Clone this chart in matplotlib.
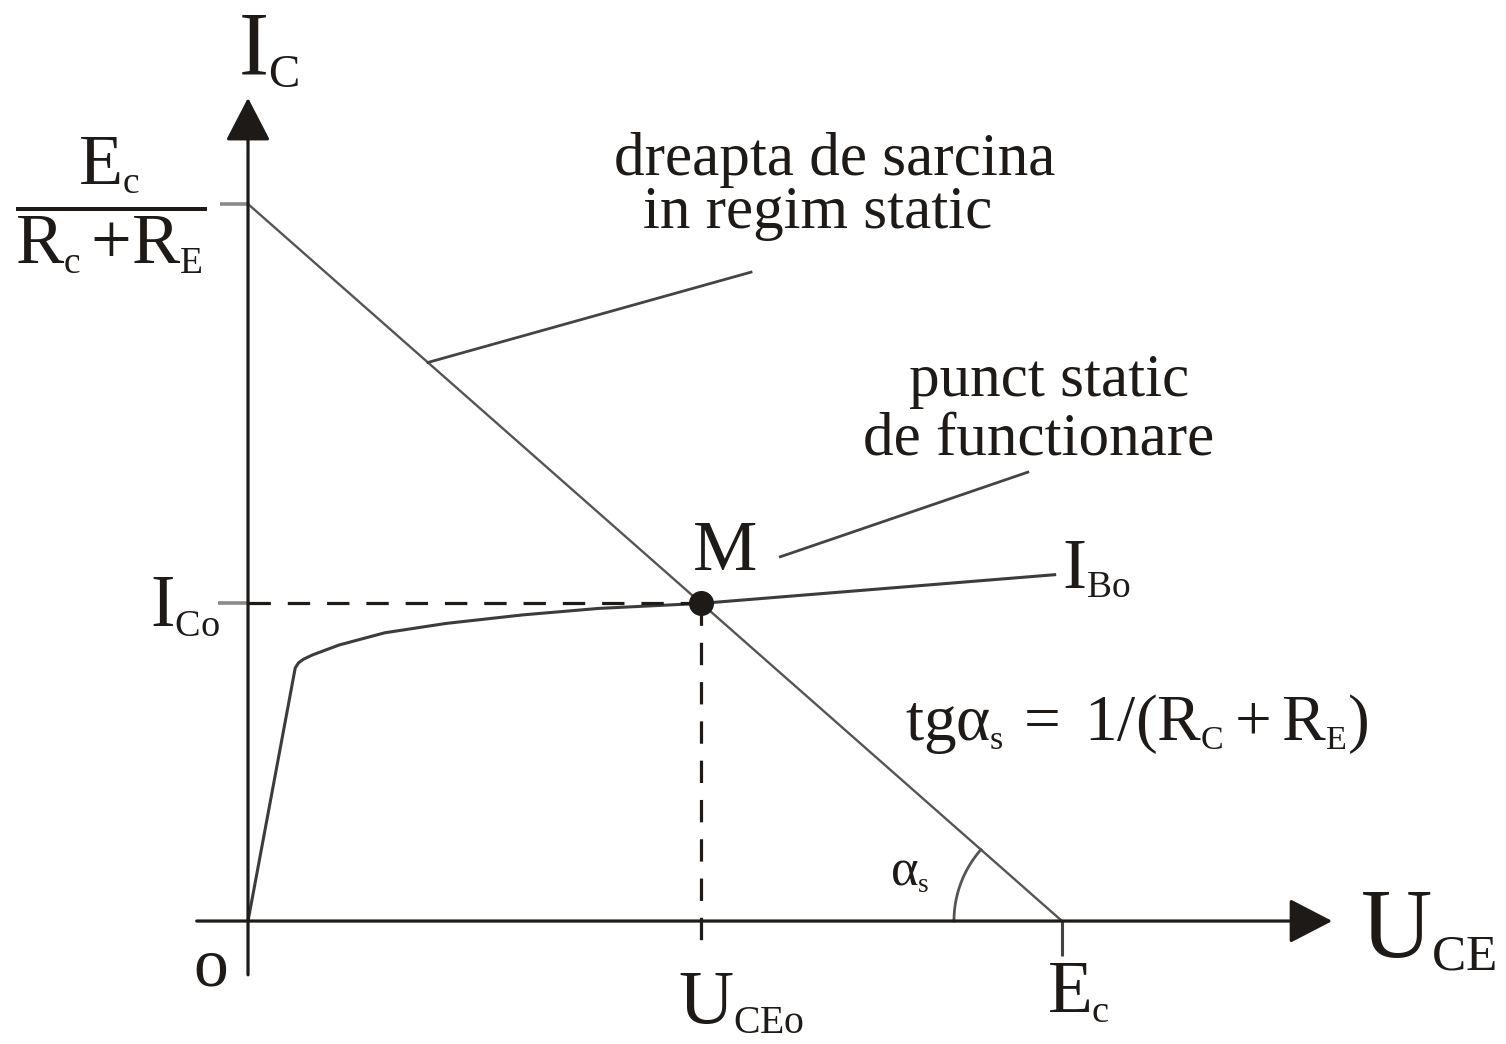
import numpy as np
import matplotlib
matplotlib.use("Agg")
import matplotlib.pyplot as plt
import matplotlib._mathtext as mathtext_internals

# subscripts in the figure are about half the size of the base letters
mathtext_internals.SHRINK_FACTOR = 0.52

plt.rcParams['font.family'] = ['Liberation Serif', 'DejaVu Serif']
plt.rcParams['mathtext.fontset'] = 'custom'
plt.rcParams['mathtext.rm'] = 'Liberation Serif'
plt.rcParams['mathtext.it'] = 'Liberation Serif'
plt.rcParams['mathtext.bf'] = 'Liberation Serif:bold'

# circuit values (arbitrary units)
Ec = 10.0          # supply voltage, x-axis intercept of the load line
Ic_max = 10.0      # Ec / (Rc + RE), y-axis intercept
Uce0 = 5.57        # quiescent point
Ic0 = 4.43

# output characteristic for I_B0
curve_u = [0.0, 0.58, 0.62, 0.68, 0.79, 1.12, 1.68, 2.43, 3.38, 4.31, 5.57, 9.91]
curve_i = [0.0, 3.53, 3.60, 3.65, 3.71, 3.85, 4.02, 4.15, 4.27, 4.36, 4.43, 4.83]

# leader lines (start, end)
leader_load = [(2.21, 7.79), (6.18, 9.05)]
leader_q = [(6.54, 5.08), (9.58, 6.26)]

axis_col = '#1e1a17'
line_col = '#555555'
stub_col = '#8a8a8a'

fig = plt.figure(figsize=(15.06, 10.44), dpi=100)
ax = fig.add_axes([0, 0, 1, 1])
ax.set_xlim(-3.047, 15.455)
ax.set_ylim(-1.715, 12.845)
ax.axis('off')

# axes with arrows
arrow_kw = dict(arrowstyle='-|>,head_length=2.7,head_width=1.4', mutation_scale=10,
                lw=2.3, color=axis_col, shrinkA=0, shrinkB=0)
ax.annotate('', xy=(13.32, 0), xytext=(-0.63, 0), arrowprops=arrow_kw)
ax.annotate('', xy=(0, 11.48), xytext=(0, -0.75), arrowprops=arrow_kw)

# load line and stubs
ax.plot([0, Ec], [Ic_max, 0], color=line_col, lw=1.7, solid_capstyle='butt')
ax.plot([-0.34, 0], [Ic_max, Ic_max], color=stub_col, lw=2.6, solid_capstyle='butt')
ax.plot([Ec, Ec], [0, -0.49], color='#444444', lw=2.2, solid_capstyle='butt')

# characteristic
ax.plot(curve_u, curve_i, color='#3c3c3c', lw=2.2)

# dashed projections of the Q point
ax.plot([-0.37, 0], [Ic0, Ic0], color=stub_col, lw=2.6, solid_capstyle='butt')
ax.plot([0, Uce0], [Ic0, Ic0], color=axis_col, lw=2.3, linestyle=(0, (7.0, 5.3)))
ax.plot([Uce0, Uce0], [Ic0, -0.47], color=axis_col, lw=2.3, linestyle=(0, (7.0, 5.3)))
ax.plot([Uce0], [Ic0], 'o', color=axis_col, markersize=17, zorder=5)

# leader lines
for seg in (leader_load, leader_q):
    ax.plot([seg[0][0], seg[1][0]], [seg[0][1], seg[1][1]], color='#444444', lw=2.0)

# angle arc alpha_s, drawn in screen space so it is circular
fig.canvas.draw()
p0 = ax.transData.transform((Ec, 0))
p1 = ax.transData.transform((0, Ic_max))
ang = np.arctan2(p1[1] - p0[1], p1[0] - p0[0])
theta = np.linspace(ang, np.pi, 60)
r = 108
arc_pts = np.column_stack([p0[0] + r * np.cos(theta), p0[1] + r * np.sin(theta)])
arc_data = ax.transData.inverted().transform(arc_pts)
ax.plot(arc_data[:, 0], arc_data[:, 1], color=line_col, lw=2.0)


def label(txt, anchor, dx, dy, size, ha='left', va='baseline'):
    ax.annotate(txt, xy=anchor, xytext=(dx, dy), textcoords='offset points',
                fontsize=size, ha=ha, va=va, color=axis_col)


label(r'$I_C$', (0, 11.48), -7, 16.5, 65)
label(r'$\dfrac{E_c}{R_c\,{+}R_E}$', (0, Ic_max), -99, -1, 52, ha='center', va='center')
label('o', (0, 0), -27, -34, 50, ha='center', va='center')
label(r'$I_{Co}$', (0, Ic0), -20, -16, 53, ha='right')
label('M', (Uce0, Ic0), 17, 24, 52, ha='center')
label(r'$I_{Bo}$', (curve_u[-1], curve_i[-1]), 5, -9.5, 52)
label(r'$U_{CEo}$', (Uce0, 0), -17, -73, 55)
label(r'$E_c$', (Ec, 0), -11, -65.5, 53)
label(r'$U_{CE}$', (13.32, 0), 20, -26, 71)
label(r'$\alpha_s$', (Ec, 0), -124, 26, 38)
label(r'$tg\alpha_s\,=\;1/(R_C + R_E)$', (Ec, 0), -113, 130, 47)

label('dreapta de sarcina', leader_load[1], 60, 70, 44, ha='center')
label('in regim static', leader_load[1], 48, 32, 44, ha='center')
label('punct static', leader_q[1], 15, 55, 44, ha='center')
label('de functionare', leader_q[1], 8, 13, 44, ha='center')

fig.savefig('out.png', dpi=100)
plt.close(fig)
